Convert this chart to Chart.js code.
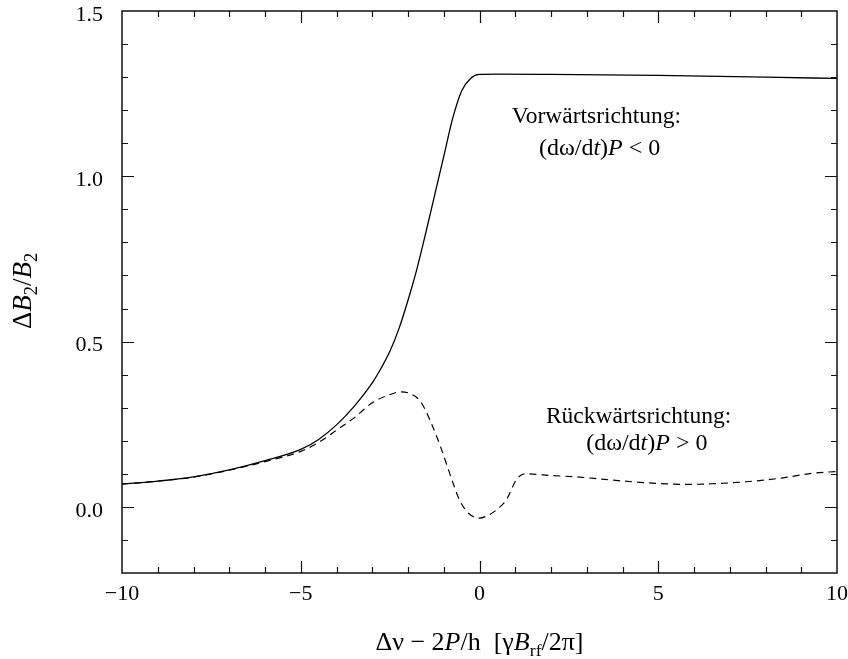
<!DOCTYPE html>
<html>
<head>
<meta charset="utf-8">
<script src="https://cdn.jsdelivr.net/npm/chart.js@4.4.1/dist/chart.umd.min.js"></script>
<style>
html,body{margin:0;padding:0;background:#fff;}
canvas{display:block;}
</style>
</head>
<body>
<canvas id="c" width="848" height="659"></canvas>
<script>
// ---- data ----
const solidX = [-10, -9, -8, -7, -6, -5, -4.5, -4, -3.5, -3, -2.75, -2.5, -2.25, -2, -1.75, -1.5, -1.25, -1, -0.75, -0.5, -0.25, 0, 0.5, 2, 5, 8, 10];
const solidY = [0.069, 0.078, 0.091, 0.112, 0.140, 0.174, 0.204, 0.248, 0.305, 0.375, 0.420, 0.472, 0.540, 0.625, 0.720, 0.830, 0.945, 1.060, 1.175, 1.258, 1.296, 1.308, 1.309, 1.308, 1.305, 1.300, 1.296];

const dashedX = [-10, -9, -8, -7, -6, -5, -4.5, -4, -3.5, -3, -2.5, -2.2, -2, -1.68, -1.5, -1.31, -1.1, -0.93, -0.75, -0.56, -0.3, 0, 0.25, 0.51, 0.75, 1.03, 1.26, 1.5, 2, 2.8, 3.5, 4.66, 5.78, 6.5, 7.46, 8.5, 9.32, 10];
const dashedY = [0.069, 0.078, 0.090, 0.111, 0.137, 0.168, 0.195, 0.232, 0.270, 0.315, 0.340, 0.348, 0.345, 0.323, 0.290, 0.243, 0.185, 0.132, 0.075, 0.021, -0.020, -0.034, -0.025, -0.006, 0.021, 0.082, 0.100, 0.099, 0.095, 0.090, 0.083, 0.073, 0.068, 0.070, 0.076, 0.088, 0.102, 0.107];

const xTicks = [-10, -5, 0, 5, 10];
const yTicks = [0.0, 0.5, 1.0, 1.5];
const xMinor = [-9, -8, -7, -6, -4, -3, -2, -1, 1, 2, 3, 4, 6, 7, 8, 9];
const yMinor = [-0.1, 0.1, 0.2, 0.3, 0.4, 0.6, 0.7, 0.8, 0.9, 1.1, 1.2, 1.3, 1.4];

const FONT = '"Liberation Serif", "DejaVu Serif", serif';

function pts(xs, ys){ return xs.map((x,i)=>({x:x, y:ys[i]})); }
function fmtX(v){ return v < 0 ? '\u2212' + Math.abs(v) : String(v); }

function segFont(s, size){
  return (s.it ? 'italic ' : '') + (s.sub ? (size*0.68).toFixed(1) : size) + 'px ' + FONT;
}
function runWidth(ctx, segs, size){
  let w = 0;
  for (const s of segs){ ctx.font = segFont(s, size); w += ctx.measureText(s.t).width; }
  return w;
}
function drawRun(ctx, segs, x, y, size){
  let cx = x;
  for (const s of segs){
    ctx.font = segFont(s, size);
    ctx.fillText(s.t, cx, y + (s.sub ? size*0.22 : 0));
    cx += ctx.measureText(s.t).width;
  }
}
function drawCentered(ctx, segs, cx, y, size){
  const w = runWidth(ctx, segs, size);
  drawRun(ctx, segs, cx - w/2, y, size);
}

const decor = {
  id: 'decor',
  afterDraw(chart){
    const ctx = chart.ctx, a = chart.chartArea;
    const xs = chart.scales.x, ys = chart.scales.y;
    ctx.save();
    ctx.strokeStyle = '#111';
    ctx.lineWidth = 1.5;
    ctx.strokeRect(a.left, a.top, a.right - a.left, a.bottom - a.top);
    ctx.lineWidth = 1.2;
    ctx.beginPath();
    const tickX = (v, len) => {
      const p = Math.round(xs.getPixelForValue(v)) + 0.5;
      ctx.moveTo(p, a.bottom); ctx.lineTo(p, a.bottom - len);
      ctx.moveTo(p, a.top); ctx.lineTo(p, a.top + len);
    };
    const tickY = (v, len) => {
      const p = Math.round(ys.getPixelForValue(v)) + 0.5;
      ctx.moveTo(a.left, p); ctx.lineTo(a.left + len, p);
      ctx.moveTo(a.right, p); ctx.lineTo(a.right - len, p);
    };
    xMinor.forEach(v => tickX(v, 6));
    xTicks.forEach(v => { if (v > -10 && v < 10) tickX(v, 12); });
    yMinor.forEach(v => tickY(v, 6));
    yTicks.forEach(v => { if (v < 1.5) tickY(v, 12); });
    ctx.stroke();

    ctx.fillStyle = '#000';
    ctx.textBaseline = 'alphabetic';
    ctx.textAlign = 'left';

    // x axis title
    drawCentered(ctx, [
      {t:'\u0394\u03bd \u2212 2'}, {t:'P', it:true}, {t:'/h  [\u03b3'}, {t:'B', it:true},
      {t:'rf', sub:true}, {t:'/2\u03c0]'}
    ], (a.left + a.right) / 2, 650, 26);

    // y axis title (rotated)
    ctx.save();
    ctx.translate(31, 291);
    ctx.rotate(-Math.PI/2);
    drawCentered(ctx, [
      {t:'\u0394'}, {t:'B', it:true}, {t:'2', sub:true}, {t:'/'}, {t:'B', it:true}, {t:'2', sub:true}
    ], 0, 0, 27);
    ctx.restore();

    // annotations (anchored to data coordinates)
    const px = v => xs.getPixelForValue(v), py = v => ys.getPixelForValue(v);
    drawCentered(ctx, [{t:'Vorw\u00e4rtsrichtung:'}], px(3.27), py(1.16), 23.5);
    drawCentered(ctx, [{t:'(d\u03c9/d'}, {t:'t', it:true}, {t:')'}, {t:'P', it:true}, {t:' < 0'}], px(3.36), py(1.063), 24);
    drawCentered(ctx, [{t:'R\u00fcckw\u00e4rtsrichtung:'}], px(4.45), py(0.253), 23.5);
    drawCentered(ctx, [{t:'(d\u03c9/d'}, {t:'t', it:true}, {t:')'}, {t:'P', it:true}, {t:' > 0'}], px(4.68), py(0.172), 24);
    ctx.restore();
  }
};

new Chart(document.getElementById('c'), {
  type: 'line',
  data: {
    datasets: [
      { data: pts(solidX, solidY), borderColor: '#000', borderWidth: 1.3, pointRadius: 0,
        fill: false, cubicInterpolationMode: 'monotone' },
      { data: pts(dashedX, dashedY), borderColor: '#000', borderWidth: 1.2, pointRadius: 0,
        fill: false, cubicInterpolationMode: 'monotone', borderDash: [7, 5] }
    ]
  },
  options: {
    responsive: false,
    devicePixelRatio: 1,
    animation: false,
    layout: { padding: { left: 0, right: 11, top: 11, bottom: 0 } },
    plugins: { legend: { display: false }, tooltip: { enabled: false } },
    scales: {
      x: {
        type: 'linear', min: -10, max: 10,
        afterBuildTicks: s => { s.ticks = xTicks.map(v => ({value: v})); },
        afterFit: s => { s.height = 86; s.paddingLeft = 0; s.paddingRight = 0; },
        grid: { display: false }, border: { display: false },
        ticks: { font: { family: FONT, size: 22 }, color: '#000', padding: 0,
                 maxRotation: 0, autoSkip: false, callback: v => fmtX(v) }
      },
      y: {
        type: 'linear', min: -0.2, max: 1.5,
        afterBuildTicks: s => { s.ticks = yTicks.map(v => ({value: v})); },
        afterFit: s => { s.width = 122; s.paddingTop = 0; s.paddingBottom = 0; },
        grid: { display: false }, border: { display: false },
        ticks: { font: { family: FONT, size: 22 }, color: '#000', padding: 11, labelOffset: 4,
                 callback: v => Number(v).toFixed(1) }
      }
    }
  },
  plugins: [decor]
});
</script>
</body>
</html>
